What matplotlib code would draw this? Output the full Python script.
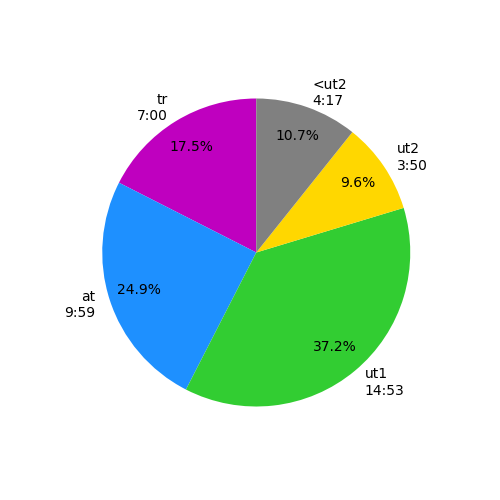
import matplotlib
matplotlib.use('Agg')
import matplotlib.pyplot as plt

# seconds spent in each zone
zones = ['tr', 'at', 'ut1', 'ut2', '<ut2']
seconds = [420.5, 599.0, 893.8, 230.5, 257.5]
times = ['7:00', '9:59', '14:53', '3:50', '4:17']
colors = ['m', 'dodgerblue', 'limegreen', 'gold', 'gray']

labels = [z + '\n' + t for z, t in zip(zones, times)]

plt.figure(figsize=(5, 5), dpi=100)
plt.pie(seconds, labels=labels, colors=colors, autopct='%1.1f%%',
        startangle=90, pctdistance=0.8)
plt.savefig('out.png')
